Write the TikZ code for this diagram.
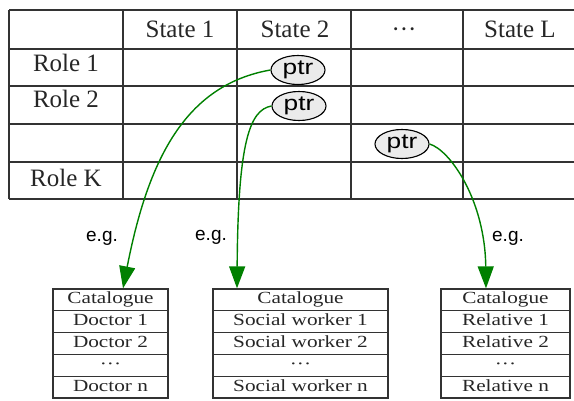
\documentclass[tikz,border=0pt]{standalone}
\usepackage{fontspec}
\usepackage{graphicx}
\setmainfont{Liberation Serif}
\newfontfamily\labelsans{Liberation Sans}
\usetikzlibrary{arrows.meta,shapes.geometric}

% text in the catalogue boxes and pointers is set a little wider
\newcommand{\widen}[1]{\scalebox{1.25}[1]{#1}}

\tikzset{
	tabline/.style={line width=1.7pt, black!80},
	tabtext/.style={anchor=base, inner sep=0pt, text=black!85, font=\fontsize{25}{30}\selectfont},
	ptrnode/.style={draw, ellipse, line width=1.1pt, fill=black!8, minimum width=54pt, minimum height=29pt, inner sep=0pt, font=\labelsans\fontsize{21}{24}\selectfont},
	catcell/.style={draw, line width=1.3pt, black!80, text=black!85, minimum height=21.8pt, inner sep=0pt, text height=11.5pt, text depth=3.5pt, font=\fontsize{17}{20}\selectfont},
	eglabel/.style={inner sep=0pt, font=\labelsans\fontsize{19}{22}\selectfont},
	ptrarrow/.style={line width=1.4pt, green!50!black, -{Triangle[length=22pt,width=16pt]}}
}

\begin{document}
\begin{tikzpicture}[x=1pt, y=-1pt]
	\useasboundingbox (0,0) rectangle (574,401);

	% role / state table
	\foreach \y in {10,49,86,124,162,199} {
		\draw[tabline] (9,\y) -- (574,\y);
	}
	\foreach \x in {9,123,237,351,463} {
		\draw[tabline] (\x,10) -- (\x,199);
	}

	% column heads
	\foreach \x/\txt/\nm in {180/State 1/st1, 295/State 2/st2, 404/{···}/stdots, 520/State L/stL} {
		\node[tabtext] (\nm) at (\x,38) {\txt};
	}
	% row heads
	\foreach \y/\txt/\nm in {72/Role 1/role1, 108/Role 2/role2, 187/Role K/roleK} {
		\node[tabtext] (\nm) at (66,\y) {\txt};
	}

	% pointers in the table
	\node[ptrnode] (ptr1) at (298,70) {\widen{ptr}};
	\node[ptrnode] (ptr2) at (299,106) {\widen{ptr}};
	\node[ptrnode] (ptr3) at (402,144) {\widen{ptr}};

	% catalogue boxes: left edge / width / entries
	\foreach \bx/\bw/\who/\nm in {53/115/Doctor/doc, 213/175/Social worker/soc, 441/129/Relative/rel} {
		\foreach \txt [count=\i from 0] in {Catalogue, \who\ 1, \who\ 2, {···}, \who\ n} {
			\node[catcell, minimum width=\bw] (\nm\i) at (\bx+\bw/2, 299.9+21.8*\i) {\widen{\txt}};
		}
	}

	% e.g. labels
	\node[eglabel] (eg1) at (102,238) {e.g.};
	\node[eglabel] (eg2) at (211,237) {e.g.};
	\node[eglabel] (eg3) at (508,238) {e.g.};

	% pointer arrows
	\draw[ptrarrow] (ptr1.west) .. controls (185,85) and (148,160) .. ([xshift=12.5pt]doc0.north);
	\draw[ptrarrow] (ptr2.west) .. controls (250,110) and (238,140) .. ([xshift=-63.5pt]soc0.north);
	\draw[ptrarrow] (ptr3.east) .. controls (450,150) and (485,200) .. ([xshift=-19.5pt]rel0.north);

\end{tikzpicture}
\end{document}
